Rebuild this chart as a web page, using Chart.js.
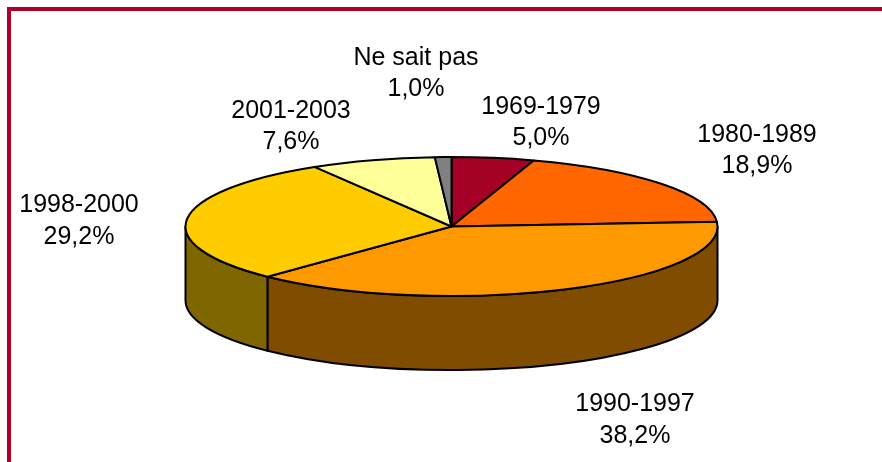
<!DOCTYPE html>
<html>
<head>
<meta charset="utf-8">
<style>
html,body{margin:0;padding:0;background:#fff;width:882px;height:462px;overflow:hidden}
#frame{position:absolute;left:7px;top:7px;width:875px;height:455px;border-left:4px solid #B0002A;border-top:4px solid #B0002A;box-sizing:border-box}
canvas{position:absolute;left:0;top:0}
</style>
<script src="https://cdn.jsdelivr.net/npm/chart.js@4"></script>
</head>
<body>
<div id="frame"></div>
<canvas id="c" width="882" height="462"></canvas>
<script>
const categories = ['1969-1979','1980-1989','1990-1997','1998-2000','2001-2003','Ne sait pas'];
const values = [5.0,18.9,38.2,29.2,7.6,1.0];
const valueLabels = ['5,0%','18,9%','38,2%','29,2%','7,6%','1,0%'];
const topColors = ['#A50026','#FF6600','#FF9900','#FFCC00','#FFFF99','#808080'];
const wallColors = ['#530013','#803300','#804C00','#806600','#80804C','#404040'];

const radiusX = 266, tilt = 69.5/266, depth = 74;
// label centre x, first line y, second line y
const labelSpots = [[541,107,138.5],[757,135,166.5],[635,404,436.5],[79,205,237],[291,111,142.5],[416,58,89.5]];

const tiltPlugin = {
  id:'tilt3d',
  beforeDatasetsDraw(chart){
    const ctx = chart.ctx, arcs = chart.getDatasetMeta(0).data;
    const cx = arcs[0].x, cy = arcs[0].y, rx = arcs[0].outerRadius, ry = rx*tilt;
    ctx.save();
    ctx.lineWidth = 2; ctx.strokeStyle = '#000'; ctx.lineJoin = 'round';
    arcs.forEach((arc,i)=>{
      const a0 = Math.max(arc.startAngle,0), a1 = Math.min(arc.endAngle,Math.PI);
      if (a1 <= a0) return;
      ctx.beginPath();
      ctx.ellipse(cx,cy,rx,ry,0,a0,a1);
      ctx.ellipse(cx,cy+depth,rx,ry,0,a1,a0,true);
      ctx.closePath();
      ctx.fillStyle = wallColors[i];
      ctx.fill(); ctx.stroke();
    });
    ctx.restore();
    ctx.save();
    ctx.translate(cx,cy); ctx.scale(1,tilt); ctx.translate(-cx,-cy);
    // keep the outline width even although the arcs are squashed
    const plainStroke = CanvasRenderingContext2D.prototype.stroke;
    ctx.stroke = function(){
      const m = ctx.getTransform();
      ctx.setTransform(1,0,0,1,0,0);
      plainStroke.call(ctx);
      ctx.setTransform(m);
    };
  },
  afterDatasetsDraw(chart){
    const ctx = chart.ctx;
    delete ctx.stroke;
    ctx.restore();
    ctx.save();
    ctx.fillStyle = '#000';
    ctx.font = '25px "Liberation Sans", Arial, sans-serif';
    ctx.textAlign = 'center'; ctx.textBaseline = 'middle';
    categories.forEach((name,i)=>{
      const [x,y1,y2] = labelSpots[i];
      ctx.fillText(name,x,y1);
      ctx.fillText(valueLabels[i],x,y2);
    });
    ctx.restore();
  }
};

new Chart(document.getElementById('c'),{
  type:'pie',
  data:{labels:categories,datasets:[{data:values,backgroundColor:topColors,borderColor:'#000',borderWidth:2,borderJoinStyle:'round',clip:false}]},
  options:{
    responsive:false,animation:false,radius:radiusX,
    layout:{padding:{left:21,right:0,top:0,bottom:9}},
    plugins:{legend:{display:false},tooltip:{enabled:false},title:{display:false}}
  },
  plugins:[tiltPlugin]
});
</script>
</body>
</html>
